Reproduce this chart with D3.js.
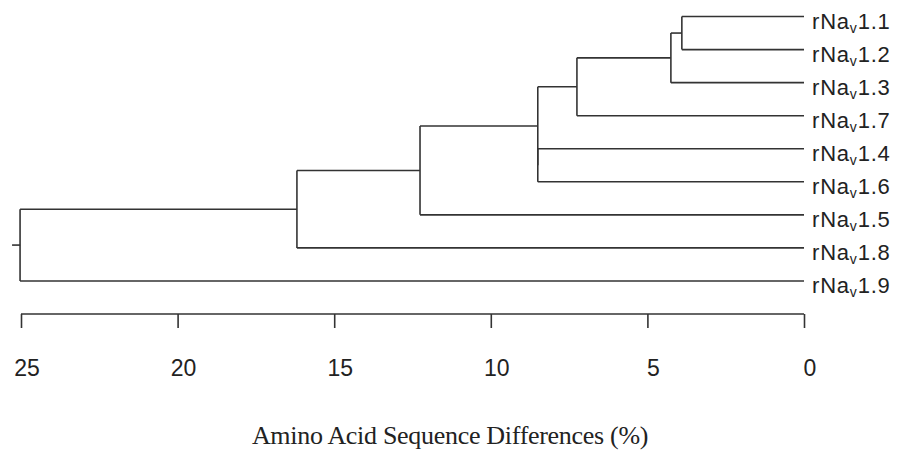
<!DOCTYPE html>
<html>
<head>
<meta charset="utf-8">
<script src="https://cdn.jsdelivr.net/npm/d3@7"></script>
<style>
  body { margin: 0; background: #fff; }
  .tree line { stroke: #333; stroke-width: 1.6; }
  .axis line, .axis path { stroke: #333; stroke-width: 1.6; }
  .leaf { font-family: "Liberation Sans", Arial, sans-serif; font-size: 22px; fill: #222; letter-spacing: 0.8px; }
  .tick-label { font-family: "Liberation Sans", Arial, sans-serif; font-size: 23px; fill: #222; }
  .title { font-family: "Liberation Serif", "Times New Roman", serif; font-size: 26px; fill: #222; letter-spacing: -0.3px; }
</style>
</head>
<body>
<svg id="chart"></svg>
<script>
let width = 899,
    height = 462;

// leaves in plotting order (top to bottom)
let leafIds = ["1.1", "1.2", "1.3", "1.7", "1.4", "1.6", "1.5", "1.8", "1.9"];

// hclust style merge table: negative = leaf (1-based), positive = earlier merge
let merges = [[-1, -2], [1, -3], [2, -4], [-5, -6], [3, 4], [5, -7], [6, -8], [7, -9]];
let mergeHeights = [3.9, 4.25, 7.25, 8.5, 8.5, 12.26, 16.19, 25.03];

let tickValues = [25, 20, 15, 10, 5, 0];

let svg = d3.select('#chart')
    .attr('width', width)
    .attr('height', height);

let x = d3.scaleLinear()
    .domain([25, 0])
    .range([21, 804]);

// build nested object from the merge table
function buildNode(k) {
    if (k < 0) return { name: leafIds[-k - 1], height: 0 };
    let m = merges[k - 1];
    return { height: mergeHeights[k - 1], children: [buildNode(m[0]), buildNode(m[1])] };
}

let root = d3.hierarchy(buildNode(merges.length));

// cluster only for the vertical spread of the leaves
d3.cluster()
    .size([297.5, 1])
    .separation(function() { return 1; })(root);

let g = svg.append('g').attr('class', 'tree');

root.descendants().forEach(function(d) {
    if (!d.children) return;
    let nx = x(d.data.height);
    let ys = d.children.map(function(c) { return c.x; });
    g.append('line')
        .attr('x1', nx).attr('x2', nx)
        .attr('y1', d3.min(ys)).attr('y2', d3.max(ys));
    d.children.forEach(function(c) {
        g.append('line')
            .attr('x1', nx).attr('x2', x(c.data.height))
            .attr('y1', c.x).attr('y2', c.x);
    });
});

// little stub at the root
g.append('line')
    .attr('x1', x(root.data.height) - 8).attr('x2', x(root.data.height))
    .attr('y1', root.x).attr('y2', root.x);

// leaf labels with subscript v
let labels = svg.selectAll('text.leaf')
    .data(root.leaves())
    .enter()
    .append('text')
    .attr('class', 'leaf')
    .attr('x', function(d) { return x(0) + 8; })
    .attr('y', function(d) { return d.x + 12.5; });

labels.append('tspan').text('rNa');
labels.append('tspan')
    .attr('dy', 4)
    .style('font-size', '14px')
    .text('v');
labels.append('tspan')
    .attr('dy', -4)
    .text(function(d) { return d.data.name; });

// axis
let axis = d3.axisBottom(x)
    .tickValues(tickValues)
    .tickSize(14)
    .tickSizeOuter(0)
    .tickFormat('');

let axisG = svg.append('g')
    .attr('class', 'axis')
    .attr('transform', 'translate(0,314)')
    .call(axis);

axisG.select('.domain').attr('d', 'M' + x(25) + ',0H' + x(0));

svg.selectAll('text.tick-label')
    .data(tickValues)
    .enter()
    .append('text')
    .attr('class', 'tick-label')
    .attr('text-anchor', 'middle')
    .attr('x', function(d) { return x(d) + 6; })
    .attr('y', 376)
    .text(function(d) { return d; });

svg.append('text')
    .attr('class', 'title')
    .attr('text-anchor', 'middle')
    .attr('x', 450)
    .attr('y', 444)
    .text('Amino Acid Sequence Differences (%)');
</script>
</body>
</html>
